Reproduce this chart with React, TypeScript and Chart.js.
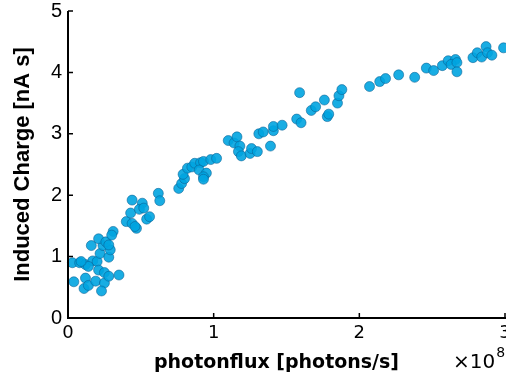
import React, { useEffect, useRef } from 'react';
import { Chart, registerables } from 'chart.js';

Chart.register(...registerables);

// photon flux in units of 10^8 photons/s
const photonFlux = [
  0.04, 0.03, 0.08, 0.12, 0.17, 0.20, 0.14, 0.12, 0.11, 0.14,
  0.19, 0.25, 0.23, 0.21, 0.25, 0.28, 0.35, 0.22, 0.28, 0.24,
  0.29, 0.16, 0.21, 0.26, 0.31, 0.30, 0.28, 0.09, 0.40, 0.44,
  0.47, 0.46, 0.43, 0.44, 0.51, 0.49, 0.52, 0.54, 0.56, 0.62,
  0.63, 0.76, 0.78, 0.80, 0.79, 0.82, 0.85, 0.87, 0.91, 0.93,
  0.98, 1.02, 0.90, 0.95, 0.93, 0.93, 1.10, 1.14, 1.16, 1.18,
  1.17, 1.19, 1.25, 1.26, 1.30, 1.31, 1.34, 1.41, 1.41, 1.47,
  1.39, 1.57, 1.60, 1.59, 1.67, 1.70, 1.76, 1.78, 1.79, 1.85,
  1.86, 1.88, 2.07, 2.14, 2.18, 2.27, 2.38, 2.46, 2.51, 2.57,
  2.61, 2.66, 2.63, 2.67, 2.67, 2.78, 2.81, 2.84, 2.87, 2.88,
  2.91, 2.99,
];

// induced charge in nA s
const inducedCharge = [
  0.59, 0.90, 0.90, 0.87, 0.93, 0.92, 0.84, 0.65, 0.48, 0.53,
  0.60, 0.57, 0.44, 0.78, 0.74, 0.68, 0.70, 1.05, 0.99, 1.18,
  1.11, 1.18, 1.29, 1.24, 1.41, 1.35, 1.19, 0.92, 1.57, 1.54,
  1.46, 1.49, 1.71, 1.92, 1.87, 1.77, 1.79, 1.61, 1.65, 2.03,
  1.91, 2.11, 2.19, 2.27, 2.34, 2.44, 2.46, 2.52, 2.53, 2.55,
  2.58, 2.60, 2.41, 2.36, 2.30, 2.26, 2.89, 2.85, 2.95, 2.80,
  2.71, 2.64, 2.68, 2.76, 2.71, 3.00, 3.03, 3.05, 3.12, 3.14,
  2.80, 3.24, 3.18, 3.67, 3.38, 3.44, 3.55, 3.28, 3.32, 3.50,
  3.62, 3.72, 3.77, 3.85, 3.90, 3.96, 3.92, 4.07, 4.03, 4.11,
  4.19, 4.21, 4.13, 4.16, 4.01, 4.24, 4.32, 4.25, 4.42, 4.32,
  4.28, 4.40,
];

const xTickValues = [0, 1, 2, 3];
const yTickValues = [0, 1, 2, 3, 4, 5];
const xTitle = 'photonflux [photons/s]';
const yTitle = 'Induced Charge [nA s]';
const xMultiplier = '×10';
const xExponent = '8';

export default function App() {
  const ref = useRef<HTMLCanvasElement>(null);

  useEffect(() => {
    if (!ref.current) return;
    const points = photonFlux.map((x, i) => ({ x, y: inducedCharge[i] }));

    const axesPlugin = {
      id: 'matlabAxes',
      afterDatasetsDraw(chart: any) {
        const { ctx, chartArea, scales } = chart;
        const xs = scales.x;
        const ys = scales.y;
        ctx.save();
        ctx.strokeStyle = '#000';
        ctx.lineWidth = 2;
        ctx.beginPath();
        ctx.moveTo(chartArea.left, chartArea.top);
        ctx.lineTo(chartArea.left, chartArea.bottom);
        ctx.lineTo(chart.width, chartArea.bottom);
        ctx.stroke();
        ctx.lineWidth = 1.5;
        ctx.beginPath();
        for (const v of xTickValues) {
          const px = xs.getPixelForValue(v);
          ctx.moveTo(px, chartArea.bottom);
          ctx.lineTo(px, chartArea.bottom - 5);
        }
        for (const v of yTickValues) {
          const py = ys.getPixelForValue(v);
          ctx.moveTo(chartArea.left, py);
          ctx.lineTo(chartArea.left + 5, py);
        }
        ctx.stroke();
        ctx.fillStyle = '#000';
        ctx.textBaseline = 'alphabetic';
        // x-axis title (offset left of the axis centre, as in the original)
        ctx.textAlign = 'center';
        ctx.font = 'bold 19px "DejaVu Sans"';
        ctx.fillText(xTitle, chartArea.left + 208.5, 368);
        // exponent label
        ctx.textAlign = 'left';
        ctx.font = '20px "DejaVu Sans"';
        const mx = 453;
        ctx.fillText(xMultiplier, mx, 368);
        const w = ctx.measureText(xMultiplier).width;
        ctx.font = '14px "DejaVu Sans"';
        ctx.fillText(xExponent, mx + w + 1, 357);
        ctx.restore();
      },
    };

    const chart = new Chart(ref.current, {
      type: 'scatter',
      data: {
        datasets: [
          {
            data: points,
            pointRadius: 5,
            pointHoverRadius: 5,
            pointBackgroundColor: 'rgba(0,164,224,0.9)',
            pointBorderColor: 'rgba(10,95,145,0.55)',
            pointBorderWidth: 1,
            clip: false as any,
          },
        ],
      },
      options: {
        animation: false,
        responsive: false,
        events: [],
        layout: { padding: { left: 0, right: 25, top: 11, bottom: 0 } },
        plugins: { legend: { display: false }, tooltip: { enabled: false } },
        scales: {
          x: {
            type: 'linear',
            min: 0,
            max: 3,
            afterBuildTicks: (s: any) => {
              s.ticks = xTickValues.map((v) => ({ value: v }));
            },
            ticks: {
              color: '#000',
              padding: 5,
              font: { family: 'DejaVu Sans', size: 18 },
            },
            grid: { display: false, drawTicks: false },
            border: { display: false },
            title: { display: false, text: xTitle },
            afterFit: (s: any) => {
              s.height = 59;
              s.paddingLeft = 0;
              s.paddingRight = 0;
            },
          },
          y: {
            type: 'linear',
            min: 0,
            max: 5,
            afterBuildTicks: (s: any) => {
              s.ticks = yTickValues.map((v) => ({ value: v }));
            },
            ticks: {
              color: '#000',
              padding: 6,
              font: { family: 'Liberation Sans', size: 20, lineHeight: 1 },
            },
            grid: { display: false, drawTicks: false },
            border: { display: false },
            title: {
              display: true,
              text: yTitle,
              color: '#000',
              font: { family: 'Liberation Sans', size: 22, weight: 'bold' },
              padding: { top: 10, bottom: 0 },
            },
            afterFit: (s: any) => {
              s.width = 68;
              s.paddingTop = 0;
              s.paddingBottom = 0;
            },
          },
        },
      },
      plugins: [axesPlugin],
    });
    return () => chart.destroy();
  }, []);

  return (
    <div
      style={{
        position: 'fixed',
        left: 0,
        top: 0,
        width: 506,
        height: 377,
        overflow: 'hidden',
        background: '#fff',
      }}
    >
      <canvas ref={ref} width={530} height={377} style={{ width: 530, height: 377, display: 'block' }} />
    </div>
  );
}
